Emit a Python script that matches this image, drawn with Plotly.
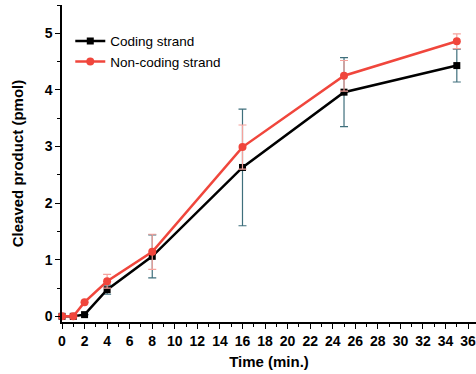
import plotly.graph_objects as go

time_coding = [0, 1, 2, 4, 8, 16, 25, 35]
coding = [0.0, 0.0, 0.03, 0.47, 1.06, 2.63, 3.96, 4.43]
coding_err = [0.0, 0.0, 0.0, 0.08, 0.38, 1.03, 0.61, 0.29]

time_noncoding = [0, 1, 2, 4, 8, 16, 25, 35]
noncoding = [0.0, 0.0, 0.25, 0.62, 1.14, 2.99, 4.25, 4.86]
noncoding_err = [0.0, 0.0, 0.0, 0.12, 0.31, 0.39, 0.27, 0.13]

x_ticks = list(range(0, 37, 2))
y_ticks = [0, 1, 2, 3, 4, 5]

font_family = "Liberation Sans, Arial, sans-serif"

fig = go.Figure()
fig.add_trace(go.Scatter(
    x=time_coding, y=coding, name="Coding strand",
    mode="lines+markers",
    line=dict(color="black", width=2.5),
    marker=dict(symbol="square", size=7, color="black"),
    error_y=dict(type="data", array=coding_err, visible=True,
                 color="#3F6F7C", thickness=1.2, width=4),
    cliponaxis=False,
))
fig.add_trace(go.Scatter(
    x=time_noncoding, y=noncoding, name="Non-coding strand",
    mode="lines+markers",
    line=dict(color="#F0463C", width=2.5),
    marker=dict(symbol="circle", size=8, color="#F0463C"),
    error_y=dict(type="data", array=noncoding_err, visible=True,
                 color="#F5A29C", thickness=1.2, width=4),
    cliponaxis=False,
))

fig.update_layout(
    width=476, height=374,
    margin=dict(l=62, r=0, t=5, b=52),
    paper_bgcolor="white", plot_bgcolor="white",
    font=dict(family=font_family, color="black"),
    showlegend=True,
    legend=dict(x=0.02, y=0.935, xanchor="left", yanchor="top",
                bgcolor="rgba(0,0,0,0)", font=dict(size=13.5, family=font_family),
                tracegroupgap=0, itemwidth=30),
    xaxis=dict(
        range=[0, 36.7], tickvals=x_ticks, automargin=False,
        ticklabeloverflow="allow",
        showgrid=False, zeroline=False,
        showline=True, linecolor="black", linewidth=1.5,
        ticks="outside", ticklen=5, tickwidth=1.2, tickcolor="black",
        minor=dict(dtick=1, ticks="outside", ticklen=3, tickcolor="black", showgrid=False),
        tickfont=dict(size=14, family=font_family, weight="bold"),
        title=dict(text="Time (min.)", font=dict(size=15, family=font_family, weight="bold"), standoff=9),
    ),
    yaxis=dict(
        range=[-0.1, 5.5], tickvals=y_ticks, automargin=False,
        showgrid=False, zeroline=False,
        showline=True, linecolor="black", linewidth=1.5,
        ticks="outside", ticklen=5, tickwidth=1.2, tickcolor="black",
        minor=dict(dtick=0.5, ticks="outside", ticklen=3, tickcolor="black", showgrid=False),
        tickfont=dict(size=14, family=font_family, weight="bold"),
        title=dict(text="Cleaved product (pmol)", font=dict(size=15, family=font_family, weight="bold"), standoff=17),
    ),
)

fig.write_html("out.html",
               config={"displayModeBar": False},
               post_script="document.body.style.margin='0';document.body.style.overflow='hidden';")
